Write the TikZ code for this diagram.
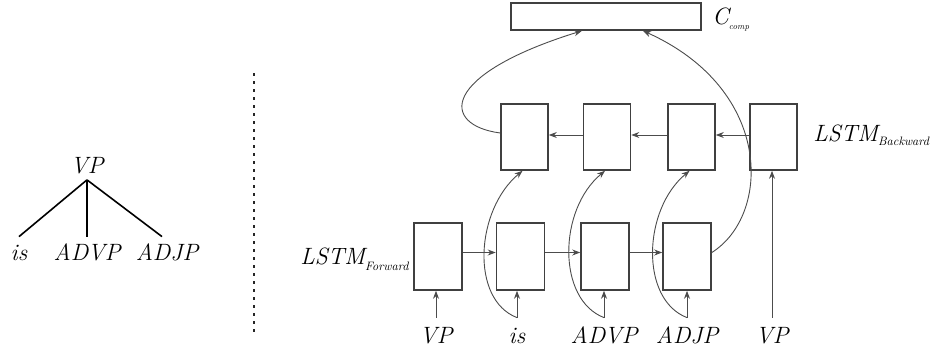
\documentclass[tikz,border=0pt]{standalone}
\usetikzlibrary{arrows.meta}
\newcommand{\mysub}[3]{\raisebox{-#2}{\scalebox{#1}{\fontsize{10}{10}\selectfont\itshape #3}}}
\begin{document}
\begin{tikzpicture}[x=0.5pt,y=-0.5pt,
  bbox/.style={draw=black!75, line width=0.8pt, minimum width=23.5pt, minimum height=33pt, inner sep=0pt},
  fbox/.style={bbox, minimum width=24pt, minimum height=33.5pt},
  lab/.style={font=\fontsize{11.8}{14}\selectfont\itshape, inner sep=0pt, anchor=base},
  inlab/.style={lab, text height=9pt, inner ysep=3.5pt},
  leaf/.style={lab, text height=8.5pt, inner ysep=3pt},
  conn/.style={draw=black!70, line width=0.45pt, -{Stealth[length=4pt,width=3pt]}},
  tree/.style={draw=black, line width=0.8pt}]
\useasboundingbox (0,0) rectangle (931,348);

% left tree
\node[lab, inner ysep=3pt] (t0) at (87,173) {VP};
\node[leaf] (t1) at (19,260) {is};
\node[leaf] (t2) at (87,260) {ADVP};
\node[leaf] (t3) at (167,260) {ADJP};
\draw[tree] (t0.south) -- (t1.north);
\draw[tree] (t0.south) -- (t2.north);
\draw[tree] (t0.south) -- ([xshift=-2.5pt]t3.north);

% dashed separator
\coordinate (d1) at (254,73);
\coordinate (d2) at (254,333);
\draw[black!85, line width=0.8pt, dash pattern=on 1.5pt off 2.5pt] (d1) -- (d2);

% composition box
\node[bbox, minimum width=95pt, minimum height=13.5pt] (cc) at (606,16.5) {};
\node[lab, anchor=base west] (cl) at (712,25) {C\mysub{0.45}{2pt}{comp}};

% backward LSTM
\node[bbox] (b1) at (524.5,137) {};
\node[bbox] (b2) at (607,137) {};
\node[bbox] (b3) at (691.5,137) {};
\node[bbox] (b4) at (773.5,137) {};
\node[lab, anchor=base west] (lb) at (813,141) {LSTM\mysub{0.61}{2pt}{Backward}};

% forward LSTM
\node[fbox] (f1) at (438,256.5) {};
\node[fbox] (f2) at (520.5,256.5) {};
\node[fbox] (f3) at (605,256.5) {};
\node[fbox] (f4) at (687,256.5) {};
\node[lab, anchor=base west] (lf) at (300,264) {LSTM\mysub{0.61}{3pt}{Forward}};

% inputs
\node[inlab] (i1) at (436,343) {VP};
\node[inlab] (i2) at (517,343) {is};
\node[inlab] (i3) at (604,343) {ADVP};
\node[inlab] (i4) at (687,343) {ADJP};
\node[inlab] (i5) at (772,343) {VP};

% forward chain
\draw[conn] ([yshift=2pt]f1.east) -- ([yshift=2pt]f2.west);
\draw[conn] ([yshift=2pt]f2.east) -- ([yshift=2pt]f3.west);
\draw[conn] ([yshift=2pt]f3.east) -- ([yshift=2pt]f4.west);

% backward chain
\draw[conn] ([yshift=1pt]b4.west) -- ([yshift=1pt]b3.east);
\draw[conn] ([yshift=1pt]b3.west) -- ([yshift=1pt]b2.east);
\draw[conn] ([yshift=1pt]b2.west) -- ([yshift=1pt]b1.east);

% inputs to forward
\draw[conn] (i1.north) -- (i1.north |- f1.south);
\draw[conn] (i2.north) -- (i2.north |- f2.south);
\draw[conn] (i3.north) -- (i3.north |- f3.south);
\draw[conn] (i4.north) -- (i4.north |- f4.south);

% inputs to backward
\draw[conn] (i2.north) .. controls +(-47,-18) and +(-47,39) .. ([xshift=-1pt]b1.south);
\draw[conn] (i3.north) .. controls +(-47,-18) and +(-47,39) .. ([xshift=-1pt]b2.south);
\draw[conn] (i4.north) .. controls +(-47,-18) and +(-47,39) .. ([xshift=-1pt]b3.south);
\draw[conn] (i5.north) -- (i5.north |- b4.south);

% to composition
\draw[conn] ([yshift=2pt]b1.west) .. controls +(-60,-8) and +(-142,44) .. ([xshift=-12pt]cc.south);
\draw[conn] ([yshift=2pt]f4.east) .. controls +(59,-37) and +(131,59) .. ([xshift=18.5pt]cc.south);
\end{tikzpicture}
\end{document}
